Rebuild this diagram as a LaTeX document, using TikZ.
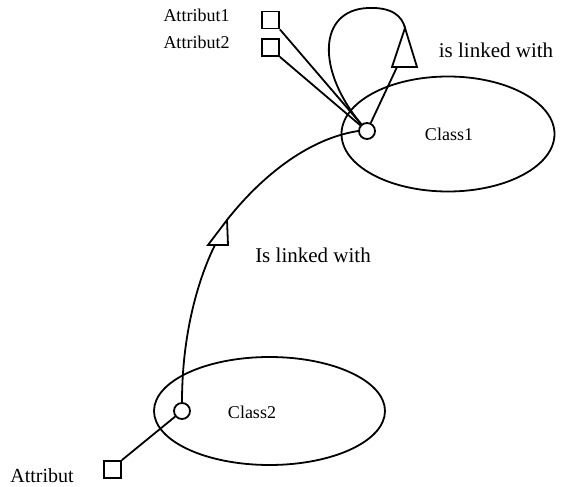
\documentclass[tikz,border=0pt]{standalone}
\usepackage{fontspec}
\setmainfont{Liberation Serif}
\usetikzlibrary{shapes.geometric}
\begin{document}
\begin{tikzpicture}[x=1pt,y=-1pt,
  wire/.style={line width=1.8pt},
  classshape/.style={draw, ellipse, line width=1.8pt, inner sep=0pt},
  port/.style={draw, circle, line width=1.8pt, minimum size=16pt, inner sep=0pt},
  attrbox/.style={draw, rectangle, line width=1.8pt, minimum size=17pt, inner sep=0pt},
  txt/.style={anchor=base, inner sep=0pt, font=\fontsize{18}{20}\selectfont},
  bigtxt/.style={anchor=base, inner sep=0pt, font=\fontsize{21}{24}\selectfont},
  head/.style={line width=1.8pt, line join=miter}
]
\useasboundingbox (0,0) rectangle (566,487);

% classes
\node[classshape, minimum width=213pt, minimum height=115pt] (class1) at (448,134) {};
\node[classshape, minimum width=231pt, minimum height=108pt] (class2) at (269.5,411) {};
\node[txt] (class1txt) at (449,140.5) {Class1};
\node[txt] (class2txt) at (252,418) {Class2};

% ports
\node[port] (c1) at (367,131) {};
\node[port] (c2) at (182,411) {};

% attributes
\node[attrbox] (a1) at (270.5,20) {};
\node[attrbox] (a2) at (270.5,47.5) {};
\node[attrbox] (a3) at (112.5,469.5) {};
\node[txt] (a1txt) at (196.5,22) {Attribut1};
\node[txt] (a2txt) at (196.5,48.5) {Attribut2};
\node[txt, font=\fontsize{20}{22}\selectfont] (a3txt) at (42,482) {Attribut};

\draw[wire] (a1.south east) -- (c1);
\draw[wire] (a2.south east) -- (c1);
\draw[wire] (a3.north east) -- (c2);

% self association of Class1
\coordinate (t1a) at (405,28);
\coordinate (t1l) at (392,67);
\coordinate (t1r) at (417,67);
\coordinate (t1b) at (397,67);
\coordinate (looptop) at (368,8);
\draw[head] (t1a) -- (t1l) -- (t1r) -- cycle;
\draw[wire] (t1b) -- (c1);
\draw[wire] (c1.130) .. controls (316,70) and (318,10) .. (looptop)
  .. controls (392,7) and (402,16) .. (t1a);
\node[bigtxt] (link1) at (496,58) {is linked with};

% association Class2 -> Class1
\coordinate (t2a) at (227,220);
\coordinate (t2l) at (208,245);
\coordinate (t2r) at (228,245);
\coordinate (t2b) at (215,245);
\draw[head] (t2a) -- (t2l) -- (t2r) -- cycle;
\draw[wire] (c2.north) .. controls (182,330) and (200,275) .. (t2b);
\draw[wire] (t2a) .. controls (252,188) and (300,140) .. (c1.west);
\node[bigtxt] (link2) at (313,262.5) {Is linked with};
\end{tikzpicture}
\end{document}
